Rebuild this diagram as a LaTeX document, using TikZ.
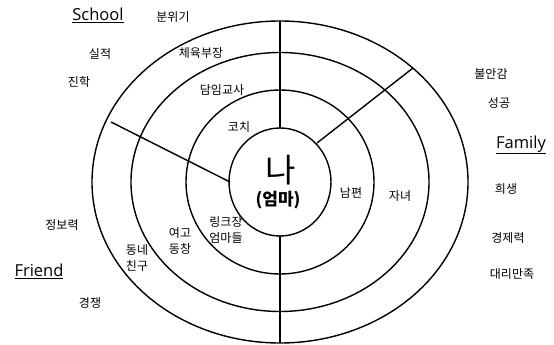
\documentclass[tikz,border=0pt]{standalone}
\usepackage{fontspec}
\setmainfont{Noto Sans CJK KR}
\newfontfamily\lat{Open Sans}
\begin{document}
\begin{tikzpicture}[x=1pt,y=-1pt,
  ring/.style={line width=1.4pt},
  spoke/.style={line width=1.4pt},
  kr/.style={font=\fontsize{12}{16}\selectfont, align=center, inner sep=0pt},
  cat/.style={font=\lat\fontsize{16.5}{18}\selectfont, inner sep=0pt}]
\useasboundingbox (0,0) rectangle (554,345);
\fill[white] (0,0) rectangle (554,345);
% rings
\coordinate (c) at (280,182);
\draw[ring] (c) ellipse [x radius=188, y radius=161];
\draw[ring] (c) ellipse [x radius=149, y radius=129.5];
\draw[ring] (c) ellipse [x radius=94, y radius=92];
\draw[ring] (c) ellipse [x radius=51, y radius=54];
% spokes
\coordinate (vt1) at (280,21);
\coordinate (vt2) at (280,128);
\coordinate (vb1) at (280,236);
\coordinate (vb2) at (280,343);
\coordinate (ur1) at (317,143);
\coordinate (ur2) at (413,68);
\coordinate (ul1) at (111,122);
\coordinate (ul2) at (230,182);
\draw[spoke] (vt1) -- (vt2);
\draw[spoke] (vb1) -- (vb2);
\draw[spoke] (ur1) -- (ur2);
\draw[spoke] (ul1) -- (ul2);
% centre
\node[font=\fontsize{33}{34}\selectfont, inner sep=0pt] (na) at (281,170) {나};
\node[font=\bfseries\fontsize{17}{18}\selectfont, inner sep=0pt] (mom) at (278,200) {(엄마)};
% categories
\node[cat] (school) at (98,15) {\underline{School}};
\node[cat] (family) at (521,145) {\underline{Family}};
\node[cat] (friend) at (39,271) {\underline{Friend}};
% school items
\node[kr] (t1) at (173,17) {분위기};
\node[kr] (t2) at (100,54) {실적};
\node[kr] (t3) at (201,53) {체육부장};
\node[kr] (t4) at (79,82) {진학};
\node[kr] (t5) at (222,90) {담임교사};
\node[kr] (t6) at (239,127) {코치};
% family items
\node[kr] (f1) at (491,74) {불안감};
\node[kr] (f2) at (499,103) {성공};
\node[kr] (f3) at (351,193) {남편};
\node[kr] (f4) at (400,196) {자녀};
\node[kr] (f5) at (506,189) {희생};
\node[kr] (f6) at (508,238) {경제력};
\node[kr] (f7) at (512,274) {대리만족};
% friend items
\node[kr] (r1) at (62,225) {정보력};
\node[kr] (r2) at (90,303) {경쟁};
\node[kr] (r3) at (137,258) {동네\\친구};
\node[kr] (r4) at (180,241) {여고\\동창};
\node[kr] (r5) at (226,230) {링크장\\엄마들};
\end{tikzpicture}
\end{document}
